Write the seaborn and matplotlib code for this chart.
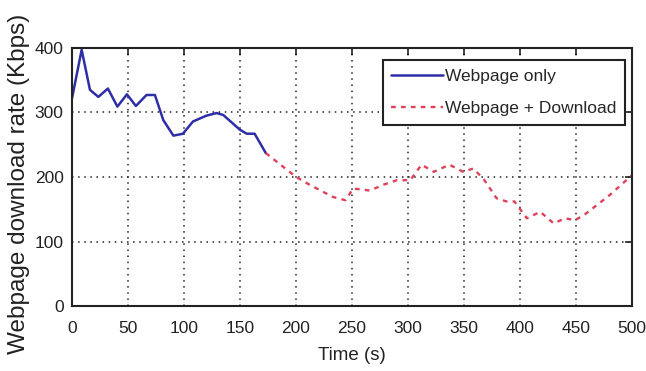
import matplotlib
matplotlib.use("Agg")
import matplotlib.pyplot as plt
import seaborn as sns
import pandas as pd

# Webpage-only phase
t_web = [0, 8.6, 16, 23.5, 32, 40.5, 49, 57, 66.5, 74, 81.5, 90.5, 99, 108, 120, 129, 135, 150, 156, 163, 173]
r_web = [322, 397, 335, 324, 337, 309, 328, 310, 327, 327, 288, 264, 267, 286, 295, 299, 296, 273, 267, 267, 237]

# Webpage + background download phase
t_dl = [173, 200, 212, 233, 244, 251, 266, 278, 290, 302, 312, 323, 337, 349, 358, 367, 379, 388,
        395, 406, 418, 430, 440, 449, 457, 469, 480, 500]
r_dl = [237, 200, 188, 169, 164, 182, 179, 188, 195, 195, 219, 208, 219, 208, 213, 198, 167, 162,
        162, 136, 146, 128, 136, 133, 141, 157, 172, 203]

x_ticks = [0, 50, 100, 150, 200, 250, 300, 350, 400, 450, 500]
y_ticks = [0, 100, 200, 300, 400]

sns.set_style("white")
plt.rcParams["font.family"] = ["Liberation Sans", "DejaVu Sans"]

df_web = pd.DataFrame({"Time": t_web, "Rate": r_web})
df_dl = pd.DataFrame({"Time": t_dl, "Rate": r_dl})

fig = plt.figure(figsize=(6.46, 3.71), dpi=100)
ax = fig.add_axes([0.1115, 0.175, 0.867, 0.696])

sns.lineplot(data=df_web, x="Time", y="Rate", ax=ax, color="#2e2ea6", lw=1.8,
             label="Webpage only", sort=False)
sns.lineplot(data=df_dl, x="Time", y="Rate", ax=ax, color="#e0405a", lw=1.7,
             linestyle=(0, (2, 2.2)), label="Webpage + Download", sort=False)

ax.set_xlim(0, 500)
ax.set_ylim(0, 400)
ax.set_xticks(x_ticks)
ax.set_yticks(y_ticks)
ax.tick_params(direction="in", length=5, width=1.2, top=True, right=True,
               labelsize=12.5, colors="#222222")
ax.tick_params(axis="x", pad=11)
ax.tick_params(axis="y", pad=6)
ax.grid(True, linestyle=(0, (1, 3)), color="#222222", lw=1.1)
for s in ax.spines.values():
    s.set_visible(True)
    s.set_color("#222222")
    s.set_linewidth(1.5)

ax.set_xlabel("Time (s)", fontsize=13.5, color="#222222", labelpad=8)
ax.set_ylabel("Webpage download rate (Kbps)", fontsize=17.5, color="#222222")
ax.yaxis.set_label_coords(-0.075, 0.475)

leg = ax.legend(loc="upper right", bbox_to_anchor=(0.9875, 0.9535), fontsize=12.5,
                frameon=True, fancybox=False, edgecolor="#222222", framealpha=1,
                handlelength=3.0, handletextpad=0.1, borderpad=0.5, labelspacing=1.0,
                borderaxespad=0)
leg.get_frame().set_linewidth(1.5)

fig.savefig("out.png", dpi=100)
